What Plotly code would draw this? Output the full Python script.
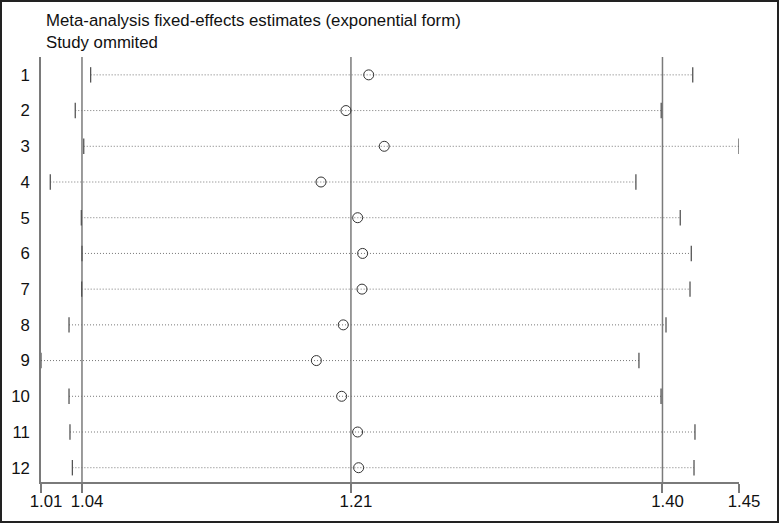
import plotly.graph_objects as go

# study omitted -> pooled estimate with the rest (exp form)
studies = [1, 2, 3, 4, 5, 6, 7, 8, 9, 10, 11, 12]
estimate = [1.2192, 1.2050, 1.2289, 1.1894, 1.2123, 1.2154, 1.2150, 1.2033, 1.1865, 1.2023, 1.2123, 1.2129]
lower = [1.0455, 1.0359, 1.0412, 1.0203, 1.0397, 1.0401, 1.0399, 1.0320, 1.0145, 1.0320, 1.0326, 1.0341]
upper = [1.4216, 1.4019, 1.4505, 1.3861, 1.4138, 1.4207, 1.4199, 1.4049, 1.3880, 1.4018, 1.4230, 1.4224]

# overall fixed-effects estimate with all studies
overall_lo, overall_est, overall_hi = 1.0401, 1.2081, 1.4027

x_ticks = [min(lower), overall_lo, overall_est, overall_hi, max(upper)]
x_labels = ["1.01", "1.04", "1.21", "1.40", "1.45"]

W, H = 779, 523
ML, MR, MT, MB = 41, 40, 57, 41
pw, ph = W - ML - MR, H - MT - MB

FONT = "Liberation Sans, Arial, sans-serif"
GREY = "#7a7a7a"
FS = 16.8

fig = go.Figure()

# dotted CI lines
cx, cy = [], []
for s, lo, hi in zip(studies, lower, upper):
    cx += [lo, hi, None]
    cy += [s, s, None]
fig.add_trace(go.Scatter(x=cx, y=cy, mode="lines",
                         line=dict(color="#777777", width=1, dash="1px,2px"),
                         hoverinfo="skip", showlegend=False))

# CI end caps
fig.add_trace(go.Scatter(x=lower + upper, y=studies + studies, mode="markers",
                         marker=dict(symbol="line-ns-open", size=11, color="#555555",
                                     line=dict(color="#555555", width=1.3)),
                         showlegend=False))

# vertical reference lines for the overall estimate
for v in [overall_lo, overall_est, overall_hi]:
    fig.add_shape(type="line", xref="x", yref="paper", x0=v, x1=v, y0=0, y1=1,
                  line=dict(color=GREY, width=1.5), layer="below")

# point estimates
fig.add_trace(go.Scatter(x=estimate, y=studies, mode="markers",
                         marker=dict(symbol="circle-open", size=10, color="#333333",
                                     line=dict(color="#333333", width=1)),
                         showlegend=False))

# titles
fig.add_annotation(text="Meta-analysis fixed-effects estimates (exponential form)",
                   xref="paper", yref="paper", x=(44 - ML) / pw, y=(H - MB - 21) / ph,
                   xanchor="left", yanchor="middle", showarrow=False,
                   font=dict(family=FONT, size=FS, color="#111111"))
fig.add_annotation(text="Study ommited",
                   xref="paper", yref="paper", x=(44 - ML) / pw, y=(H - MB - 43) / ph,
                   xanchor="left", yanchor="middle", showarrow=False,
                   font=dict(family=FONT, size=FS, color="#111111"))

# outer frame
fig.add_shape(type="rect", xref="paper", yref="paper",
              x0=(-ML + 1) / pw, x1=1 + (MR - 1) / pw,
              y0=(-MB + 1) / ph, y1=1 + (MT - 1) / ph,
              line=dict(color="#222222", width=2))

fig.update_xaxes(range=[min(lower), max(upper)], tickvals=x_ticks, ticktext=x_labels,
                 showgrid=False, zeroline=False, showline=True, linecolor=GREY, linewidth=1.5,
                 ticks="outside", ticklen=9, tickcolor=GREY, tickwidth=1.5,
                 ticklabelshift=5, ticklabelstandoff=-6, automargin=False,
                 tickfont=dict(family=FONT, size=FS, color="#111111"))
fig.update_yaxes(range=[12.4, 0.5], tickvals=studies, ticktext=[str(s) for s in studies],
                 showgrid=False, zeroline=False, showline=True, linecolor=GREY, linewidth=1.5,
                 ticks="", ticklabelstandoff=6, automargin=False,
                 tickfont=dict(family=FONT, size=FS, color="#111111"))

fig.update_layout(width=W, height=H, margin=dict(l=ML, r=MR, t=MT, b=MB),
                  paper_bgcolor="white", plot_bgcolor="white", showlegend=False)

# page body has a default 8px margin; drop it so the figure fills the window
fig.write_html("out.html", config={"displayModeBar": False},
               post_script="document.body.style.margin='0';document.body.style.overflow='hidden';")
